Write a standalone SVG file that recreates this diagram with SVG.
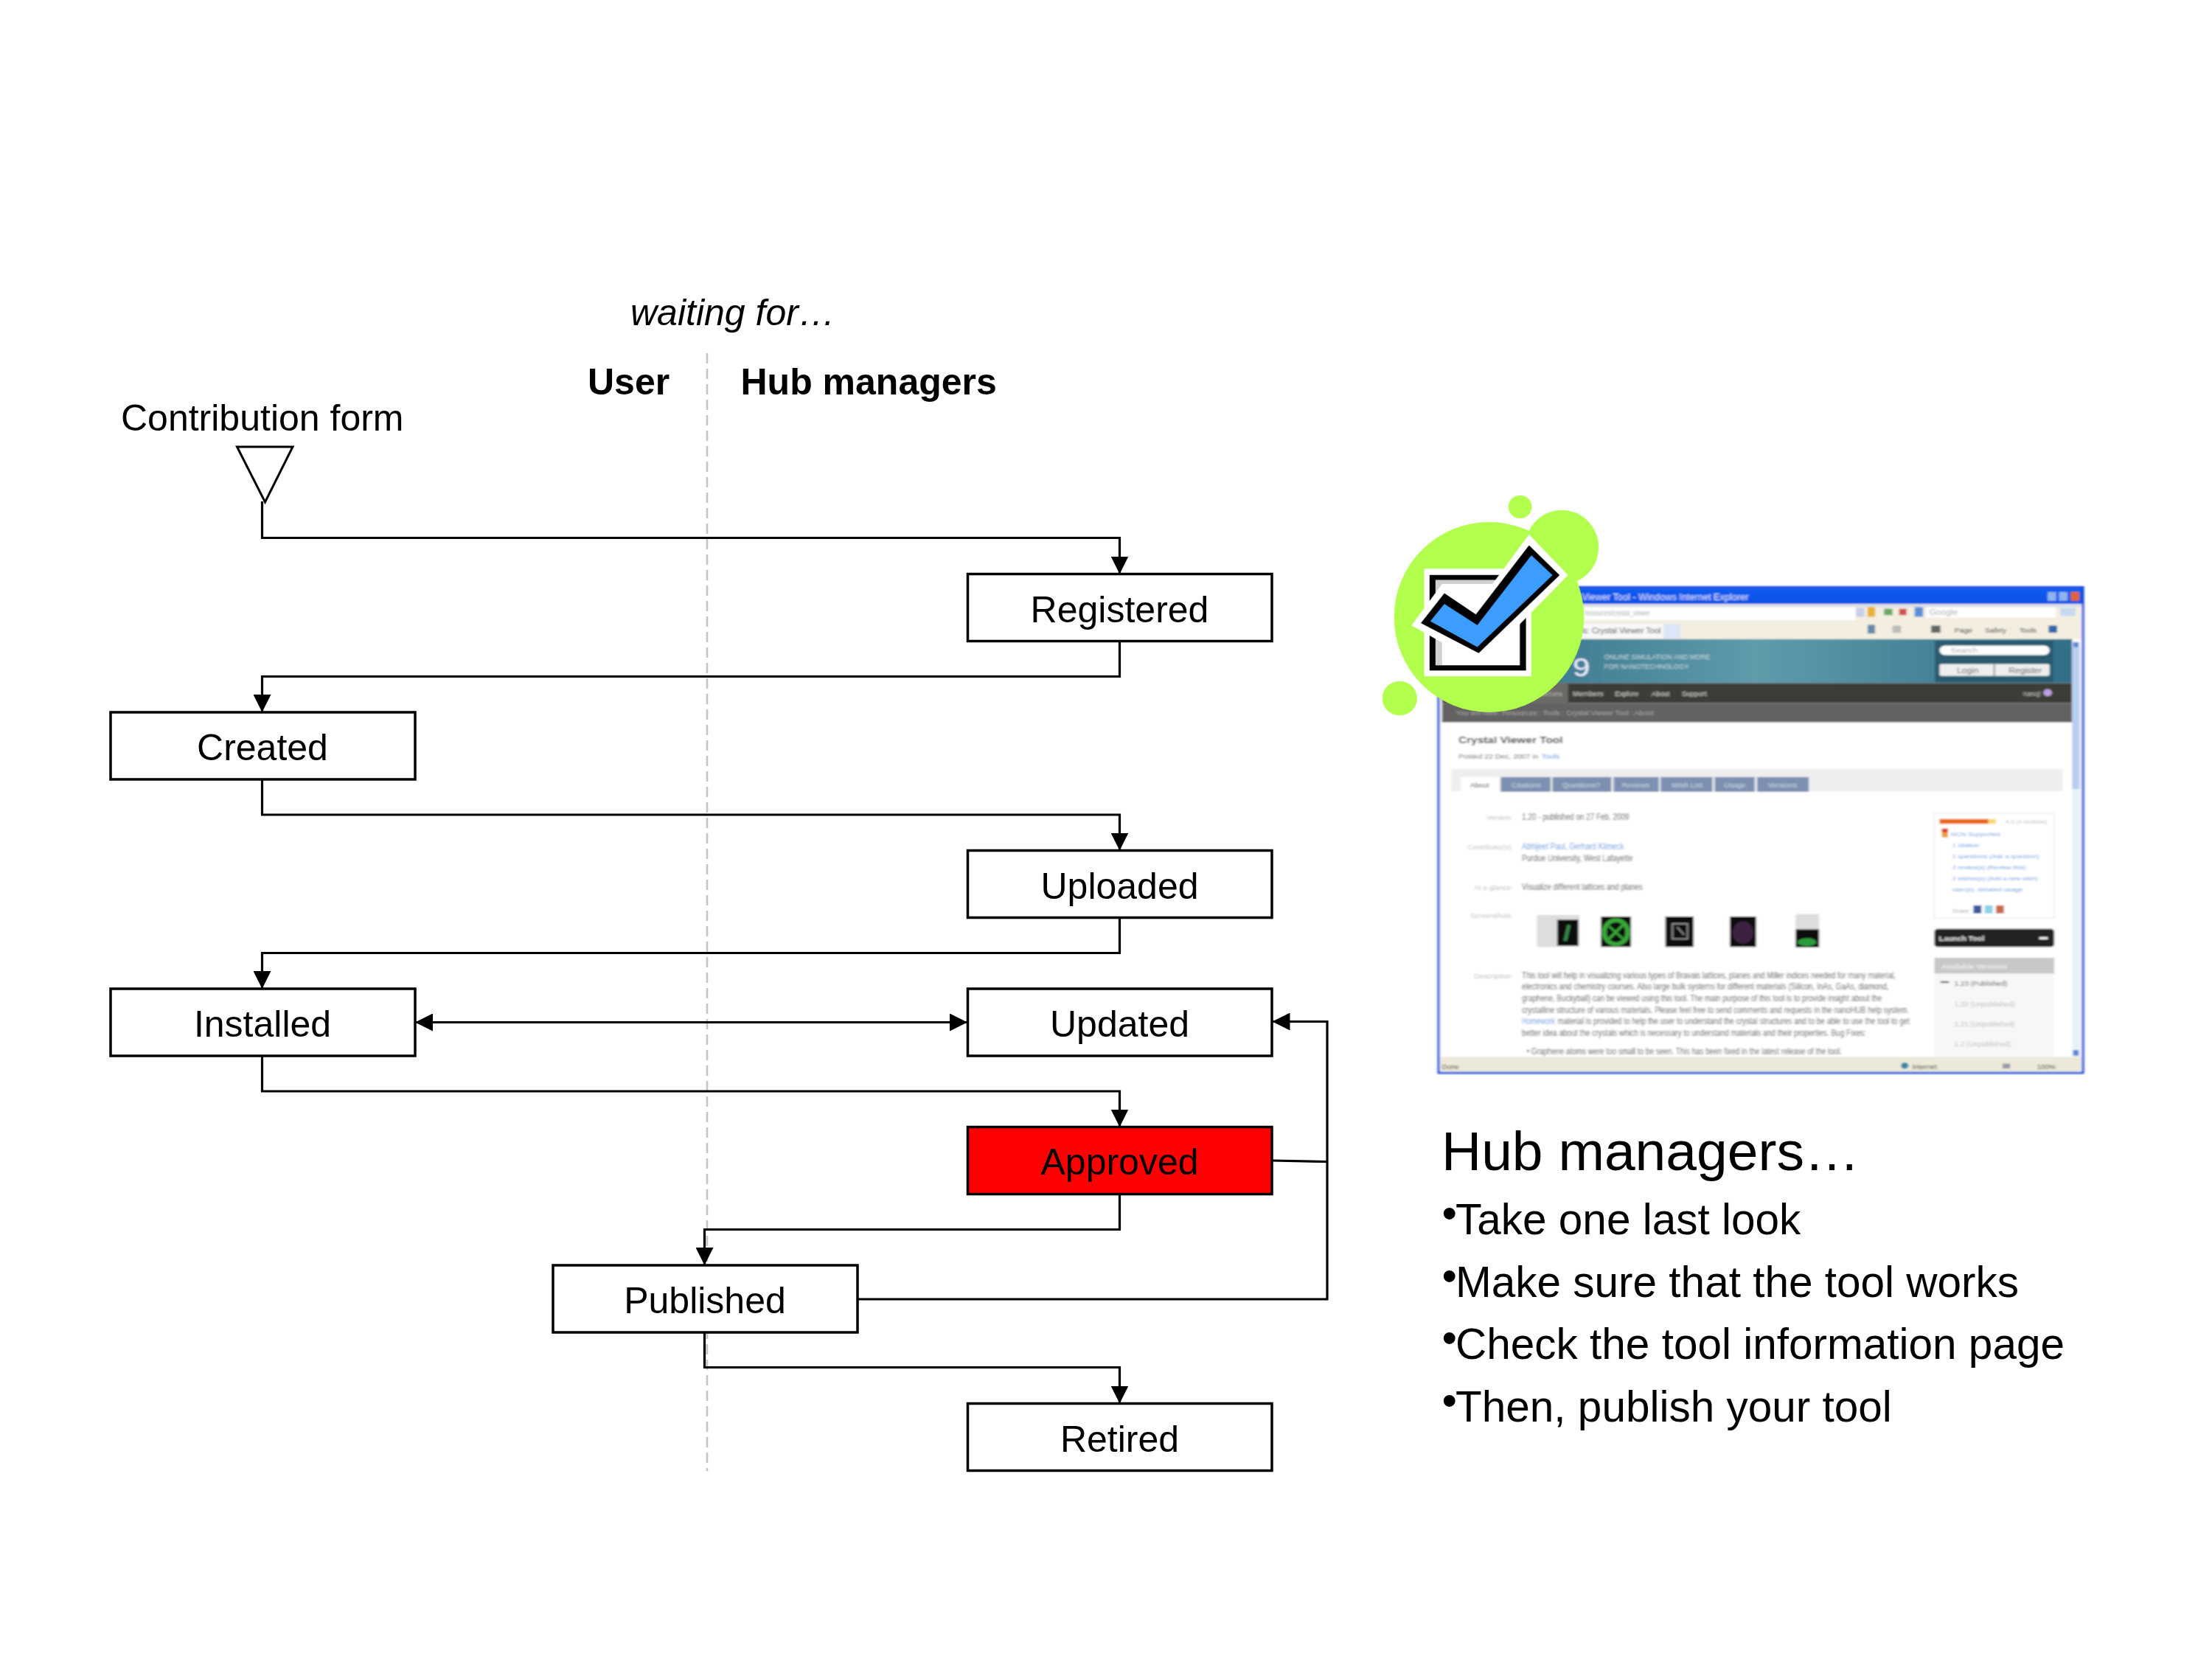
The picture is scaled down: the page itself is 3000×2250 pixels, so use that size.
<svg xmlns="http://www.w3.org/2000/svg" width="3000" height="2250" viewBox="0 0 3000 2250">
<style>
text{font-family:"Liberation Sans",Arial,sans-serif;fill:#000}
.box{fill:#fff;stroke:#000;stroke-width:3.5}
.lab{font-size:50px;text-anchor:middle}
.head{font-size:50px;font-weight:bold}
.conn{fill:none;stroke:#000;stroke-width:3.2}
.bul{font-size:58.500px}
.p{font-size:22px;fill:#555}
</style>
<defs>
<marker id="arr" markerUnits="userSpaceOnUse" markerWidth="24" markerHeight="24" refX="24" refY="12" orient="auto-start-reverse"><path d="M0,0L24,12L0,24z" fill="#000"/></marker>
<filter id="blur" x="-5%" y="-5%" width="110%" height="110%"><feGaussianBlur stdDeviation="2.2"/></filter>
<filter id="soft" x="-5%" y="-5%" width="110%" height="110%"><feGaussianBlur stdDeviation="0.9"/></filter>
<linearGradient id="title" x1="0" x2="0" y1="0" y2="1"><stop offset="0" stop-color="#0f5cf0"/><stop offset="1" stop-color="#0a50e6"/></linearGradient>
<linearGradient id="teal" x1="0" x2="1" y1="0" y2="0"><stop offset="0" stop-color="#2f6b84"/><stop offset=".5" stop-color="#5f9bab"/><stop offset="1" stop-color="#2f6f88"/></linearGradient>
</defs>

<line id="divider" x1="959" y1="479" x2="959" y2="1995" stroke="#c4c4c4" stroke-width="2.600" stroke-dasharray="14 7"/>

<g id="connectors" class="conn">
<path marker-end="url(#arr)" d="M355.500 680V729.500H1518.500V778.500"/>
<path marker-end="url(#arr)" d="M1518.500 869.500V917.500H355.500V966"/>
<path marker-end="url(#arr)" d="M355.500 1057V1105H1518.500V1153.500"/>
<path marker-end="url(#arr)" d="M1518.500 1244.500V1292.500H355.500V1341"/>
<path marker-start="url(#arr)" marker-end="url(#arr)" d="M563 1386.500H1312"/>
<path marker-end="url(#arr)" d="M355.500 1432V1480H1518.500V1528.500"/>
<path marker-end="url(#arr)" d="M1518.500 1619.500V1667.500H955.500V1716"/>
<path marker-end="url(#arr)" d="M955.500 1807V1854.500H1518.500V1903.500"/>
<path marker-end="url(#arr)" d="M1163 1762H1800V1385.500H1725.500"/>
<path d="M1725.500 1574L1800 1575.500"/>
</g>

<g id="waiting"><text x="855" y="441" font-size="50" font-style="italic">waiting for…</text></g>
<g id="user"><text class="head" x="797" y="535">User</text></g>
<g id="hub"><text class="head" x="1004.500" y="535">Hub managers</text></g>
<g id="contribution"><text x="164" y="583.500" font-size="50">Contribution form</text>
<path d="M321.500 606H397L359.500 681z" fill="#fff" stroke="#000" stroke-width="3"/></g>

<g id="registered"><rect class="box" x="1312.500" y="778.500" width="412.500" height="91"/><text class="lab" x="1518.500" y="843.500">Registered</text></g>
<g id="created"><rect class="box" x="150" y="966" width="413" height="91"/><text class="lab" x="356" y="1031">Created</text></g>
<g id="uploaded"><rect class="box" x="1312.500" y="1153.500" width="412.500" height="91"/><text class="lab" x="1518.500" y="1218.500">Uploaded</text></g>
<g id="installed"><rect class="box" x="150" y="1341" width="413" height="91"/><text class="lab" x="356" y="1406">Installed</text></g>
<g id="updated"><rect class="box" x="1312.500" y="1341" width="412.500" height="91"/><text class="lab" x="1518.500" y="1406">Updated</text></g>
<g id="approved"><rect class="box" style="fill:#f00" x="1312.500" y="1528.500" width="412.500" height="91"/><text class="lab" x="1518.500" y="1593">Approved</text></g>
<g id="published"><rect class="box" x="750" y="1716" width="413" height="91"/><text class="lab" x="956" y="1781">Published</text></g>
<g id="retired"><rect class="box" x="1312.500" y="1903.500" width="412.500" height="91"/><text class="lab" x="1518.500" y="1968.500">Retired</text></g>

<g id="screenshot" transform="translate(1860,650) scale(.6378,.5421)">
<g filter="url(#blur)">
<rect x="143" y="270" width="1370" height="1215" fill="#fff"/>
<rect x="143" y="272" width="1370" height="40" fill="url(#title)"/>
<text x="380" y="302" font-size="24" lengthAdjust="spacingAndGlyphs" textLength="422" style="fill:#dfe8ff">Crystal Viewer Tool - Windows Internet Explorer</text>
<rect x="1438" y="282" width="18" height="22" fill="#8fb4f0"/><rect x="1462" y="282" width="18" height="22" fill="#8fb4f0"/><rect x="1487" y="282" width="18" height="22" fill="#e0653a"/>
<rect x="147" y="312" width="1362" height="88" fill="#f3eee0"/>
<rect x="147" y="312" width="1362" height="8" fill="#d8dfe6"/>
<rect x="300" y="320" width="730" height="32" fill="#fff"/>
<text x="452" y="342" font-size="19" lengthAdjust="spacingAndGlyphs" textLength="140" style="fill:#aaa">/resources/crystal_viewer</text>
<rect x="1030" y="322" width="18" height="22" fill="#c8d0e8"/><rect x="1055" y="320" width="16" height="24" fill="#e8b030"/><rect x="1090" y="324" width="18" height="16" fill="#6aa860"/><rect x="1122" y="324" width="16" height="16" fill="#d05050"/><rect x="1155" y="320" width="18" height="24" fill="#5a8fd8"/>
<rect x="1180" y="320" width="275" height="26" fill="#fff"/><text x="1186" y="340" font-size="19" style="fill:#aaa">Google</text>
<rect x="1465" y="322" width="32" height="20" fill="#c8d8f0"/>
<rect x="300" y="362" width="320" height="36" fill="#f8f8fa"/><rect x="622" y="362" width="35" height="36" fill="#dce6f8"/>
<text x="300" y="386" font-size="21" lengthAdjust="spacingAndGlyphs" textLength="315" style="fill:#444">nanoHUB.org - Tools: Crystal Viewer Tool</text>
<text x="1240" y="384" font-size="18" lengthAdjust="spacingAndGlyphs" textLength="38" style="fill:#333">Page</text><text x="1305" y="384" font-size="18" lengthAdjust="spacingAndGlyphs" textLength="45" style="fill:#333">Safety</text><text x="1378" y="384" font-size="18" lengthAdjust="spacingAndGlyphs" textLength="36" style="fill:#333">Tools</text>
<rect x="1055" y="364" width="16" height="22" fill="#6688aa"/><rect x="1108" y="366" width="18" height="18" fill="#bbb"/><rect x="1190" y="366" width="20" height="18" fill="#666"/><rect x="1440" y="366" width="18" height="18" fill="#3366aa"/>
<rect x="150" y="400" width="1340" height="110" fill="url(#teal)"/>
<rect x="1198" y="404" width="252" height="104" fill="#2c5a70"/>
<text x="428" y="492" font-size="66" style="fill:#eef">9</text>
<text x="495" y="450" font-size="17" lengthAdjust="spacingAndGlyphs" textLength="225" style="fill:#cdd">ONLINE SIMULATION AND MORE</text>
<text x="495" y="474" font-size="17" lengthAdjust="spacingAndGlyphs" textLength="180" style="fill:#cdd">FOR NANOTECHNOLOGY</text>
<rect x="1208" y="416" width="234" height="24" rx="12" fill="#fff"/><text x="1232" y="434" font-size="18" style="fill:#aaa">Search</text>
<rect x="1208" y="462" width="234" height="30" rx="4" fill="#eee"/><rect x="1323" y="462" width="3" height="30" fill="#888"/>
<text x="1245" y="486" font-size="19" style="fill:#555">Login</text><text x="1355" y="486" font-size="19" style="fill:#555">Register</text>
<rect x="150" y="510" width="1340" height="50" fill="#3d3d39"/><rect x="300" y="510" width="118" height="50" fill="#6a6a66"/>
<text x="318" y="542" font-size="17" lengthAdjust="spacingAndGlyphs" textLength="88" style="fill:#bbb">Resources</text>
<text x="428" y="542" font-size="17" lengthAdjust="spacingAndGlyphs" textLength="65" style="fill:#ddd">Members</text><text x="518" y="542" font-size="17" lengthAdjust="spacingAndGlyphs" textLength="50" style="fill:#ddd">Explore</text><text x="596" y="542" font-size="17" lengthAdjust="spacingAndGlyphs" textLength="38" style="fill:#ddd">About</text><text x="660" y="542" font-size="17" lengthAdjust="spacingAndGlyphs" textLength="53" style="fill:#ddd">Support</text>
<text x="1386" y="542" font-size="18" lengthAdjust="spacingAndGlyphs" textLength="38" style="fill:#ccc">nanoj!</text><circle cx="1438" cy="534" r="9" fill="#c0a0e0"/>
<rect x="150" y="560" width="1340" height="48" fill="#626262"/>
<text x="180" y="590" font-size="15" lengthAdjust="spacingAndGlyphs" textLength="420" style="fill:#aaa">You are here: Resources : Tools : Crystal Viewer Tool : About</text>
<text x="185" y="660" font-size="24" font-weight="bold" lengthAdjust="spacingAndGlyphs" textLength="222" style="fill:#333">Crystal Viewer Tool</text>
<text x="185" y="700" font-size="15" lengthAdjust="spacingAndGlyphs" textLength="170" style="fill:#666">Posted 22 Dec, 2007 in</text><text x="362" y="700" font-size="15" lengthAdjust="spacingAndGlyphs" textLength="38" style="fill:#4a8fe0">Tools</text>
<rect x="170" y="725" width="1300" height="55" fill="#eee"/>
<rect x="190" y="745" width="82" height="35" fill="#fff"/><text x="210" y="771" font-size="16" lengthAdjust="spacingAndGlyphs" textLength="40" style="fill:#444">About</text>
<g fill="#7e90b2"><rect x="275" y="745" width="106" height="37"/><rect x="385" y="745" width="125" height="37"/><rect x="515" y="745" width="96" height="37"/><rect x="615" y="745" width="110" height="37"/><rect x="730" y="745" width="85" height="37"/><rect x="820" y="745" width="110" height="37"/></g>
<g font-size="15"><text x="298" y="771" lengthAdjust="spacingAndGlyphs" textLength="62" style="fill:#cdd">Citations</text><text x="406" y="771" lengthAdjust="spacingAndGlyphs" textLength="80" style="fill:#cdd">Questions?</text><text x="533" y="771" lengthAdjust="spacingAndGlyphs" textLength="58" style="fill:#cdd">Reviews</text><text x="638" y="771" lengthAdjust="spacingAndGlyphs" textLength="66" style="fill:#cdd">Wish List</text><text x="750" y="771" lengthAdjust="spacingAndGlyphs" textLength="46" style="fill:#cdd">Usage</text><text x="843" y="771" lengthAdjust="spacingAndGlyphs" textLength="62" style="fill:#cdd">Versions</text></g>
<g font-size="16"><text x="245" y="853" lengthAdjust="spacingAndGlyphs" textLength="52" style="fill:#bbb">Version</text><text x="205" y="926" lengthAdjust="spacingAndGlyphs" textLength="92" style="fill:#bbb">Contributor(s)</text><text x="218" y="1028" lengthAdjust="spacingAndGlyphs" textLength="79" style="fill:#bbb">At a glance</text><text x="210" y="1098" lengthAdjust="spacingAndGlyphs" textLength="87" style="fill:#bbb">Screenshots</text><text x="218" y="1248" lengthAdjust="spacingAndGlyphs" textLength="79" style="fill:#bbb">Description</text></g>
<g transform="scale(.65,1)">
<text class="p" x="492.300" y="853" lengthAdjust="spacingAndGlyphs" textLength="351">1.20 - published on 27 Feb. 2009</text>
<text class="p" x="492.300" y="926" lengthAdjust="spacingAndGlyphs" textLength="334" style="fill:#6a9ee0">Abhijeet Paul, Gerhard Klimeck</text>
<text class="p" x="492.300" y="955" lengthAdjust="spacingAndGlyphs" textLength="363">Purdue University, West Lafayette</text>
<text class="p" x="492.300" y="1028" lengthAdjust="spacingAndGlyphs" textLength="395">Visualize different lattices and planes</text>
<text class="p" x="492.300" y="1248" lengthAdjust="spacingAndGlyphs" textLength="1223">This tool will help in visualizing various types of Bravais lattices, planes and Miller indices needed for many material,</text>
<text class="p" x="492.300" y="1277" lengthAdjust="spacingAndGlyphs" textLength="1200">electronics and chemistry courses. Also large bulk systems for different materials (Silicon, InAs, GaAs, diamond,</text>
<text class="p" x="492.300" y="1306" lengthAdjust="spacingAndGlyphs" textLength="1177">graphene, Buckyball) can be viewed using this tool. The main purpose of this tool is to provide insight about the</text>
<text class="p" x="492.300" y="1335" lengthAdjust="spacingAndGlyphs" textLength="1266">crystalline structure of various materials. Please feel free to send comments and requests in the nanoHUB help system.</text>
<text class="p" x="492.300" y="1364" lengthAdjust="spacingAndGlyphs" textLength="108" style="fill:#6a9ee0">Homework</text>
<text class="p" x="609.200" y="1364" lengthAdjust="spacingAndGlyphs" textLength="1152">material is provided to help the user to understand the crystal structures and to be able to use the tool to get</text>
<text class="p" x="492.300" y="1393" lengthAdjust="spacingAndGlyphs" textLength="1126">better idea about the crystals which is necessary to understand materials and their properties. Bug Fixes:</text>
<text class="p" x="507.700" y="1438" lengthAdjust="spacingAndGlyphs" textLength="1031">•  Graphene atoms were too small to be seen. This has been fixed in the latest release of the tool.</text>
</g>
<rect x="352" y="1090" width="90" height="80" fill="#ddd"/><rect x="395" y="1102" width="45" height="65" fill="#0a0a0a"/><path d="M420 1115L412 1155" stroke="#3a8a4a" stroke-width="7"/>
<rect x="488" y="1094" width="64" height="76" fill="#111"/><ellipse cx="520" cy="1133" rx="25" ry="30" fill="none" stroke="#38a838" stroke-width="10"/><path d="M505 1150L535 1115" stroke="#38a838" stroke-width="6"/><path d="M505 1118L535 1150" stroke="#38a838" stroke-width="5"/>
<rect x="625" y="1094" width="60" height="76" fill="#111"/><path d="M640 1112H672V1150H640zM650 1120L665 1140" fill="none" stroke="#999" stroke-width="3"/>
<rect x="762" y="1094" width="56" height="76" fill="#111"/><ellipse cx="790" cy="1134" rx="22" ry="28" fill="#3a2040"/>
<rect x="902" y="1088" width="50" height="38" fill="#ddd"/><rect x="902" y="1126" width="50" height="45" fill="#080808"/><ellipse cx="926" cy="1158" rx="20" ry="10" fill="#2c9c3c"/>
<rect x="1197" y="835" width="255" height="263" fill="#fff" stroke="#eee" stroke-width="3"/>
<rect x="1208" y="850" width="104" height="12" fill="#e8650f"/><rect x="1312" y="850" width="16" height="12" fill="#f8d870"/>
<text x="1348" y="862" font-size="13" lengthAdjust="spacingAndGlyphs" textLength="89" style="fill:#bbb">4.3 (4 reviews)</text>
<rect x="1213" y="874" width="13" height="22" fill="#e8a030"/><rect x="1213" y="874" width="13" height="9" fill="#e03030"/>
<g font-size="14"><text x="1232" y="893" style="fill:#6a9ee0" lengthAdjust="spacingAndGlyphs" textLength="105">NCN Supported</text><text x="1235" y="920" style="fill:#6a9ee0" lengthAdjust="spacingAndGlyphs" textLength="57">1 citation</text><text x="1235" y="948" style="fill:#6a9ee0" lengthAdjust="spacingAndGlyphs" textLength="185">1 questions (Ask a question)</text><text x="1235" y="976" style="fill:#6a9ee0" lengthAdjust="spacingAndGlyphs" textLength="157">2 review(s) (Review this)</text><text x="1235" y="1003" style="fill:#6a9ee0" lengthAdjust="spacingAndGlyphs" textLength="182">2 wishes(s) (Add a new wish)</text><text x="1235" y="1031" style="fill:#6a9ee0" lengthAdjust="spacingAndGlyphs" textLength="150">user(s), detailed usage</text><text x="1235" y="1084" style="fill:#aaa" lengthAdjust="spacingAndGlyphs" textLength="36">Share</text></g>
<rect x="1280" y="1066" width="17" height="20" fill="#3b5998"/><rect x="1304" y="1066" width="17" height="20" fill="#8cd0e8"/><rect x="1328" y="1066" width="17" height="20" fill="#c86a50"/>
<rect x="1197" y="1125" width="255" height="45" rx="7" fill="#202020"/><text x="1207" y="1155" font-size="17" font-weight="bold" lengthAdjust="spacingAndGlyphs" textLength="96" style="fill:#eee">Launch Tool</text><path d="M1420 1148H1438" stroke="#eee" stroke-width="6"/>
<rect x="1197" y="1197" width="255" height="40" fill="#c8c8c8"/><text x="1212" y="1224" font-size="15" font-weight="bold" lengthAdjust="spacingAndGlyphs" textLength="140" style="fill:#eee">Available Versions</text>
<rect x="1197" y="1237" width="255" height="208" fill="#f7f7f7"/>
<path d="M1210 1258H1228" stroke="#444" stroke-width="4"/>
<text x="1240" y="1268" font-size="15" lengthAdjust="spacingAndGlyphs" textLength="112" style="fill:#555">1.23 (Published)</text>
<text x="1240" y="1319" font-size="15" lengthAdjust="spacingAndGlyphs" textLength="128" style="fill:#bbb">1.22 (Unpublished)</text>
<text x="1240" y="1368" font-size="15" lengthAdjust="spacingAndGlyphs" textLength="128" style="fill:#bbb">1.21 (Unpublished)</text>
<text x="1240" y="1418" font-size="15" lengthAdjust="spacingAndGlyphs" textLength="120" style="fill:#bbb">1.2 (Unpublished)</text>
<rect x="1490" y="405" width="16" height="1040" fill="#e8eff8"/><rect x="1490" y="420" width="16" height="355" fill="#b8cef0"/><rect x="1492" y="408" width="12" height="12" fill="#5a86d8"/><rect x="1492" y="1428" width="12" height="14" fill="#5a86d8"/>
<rect x="147" y="1445" width="1362" height="36" fill="#ece9d8"/>
<text x="150" y="1475" font-size="18" lengthAdjust="spacingAndGlyphs" textLength="36" style="fill:#444">Done</text><circle cx="1134" cy="1467" r="8" fill="#3a86a8"/>
<text x="1150" y="1475" font-size="18" lengthAdjust="spacingAndGlyphs" textLength="53" style="fill:#444">Internet</text><text x="1415" y="1475" font-size="17" lengthAdjust="spacingAndGlyphs" textLength="40" style="fill:#444">100%</text><rect x="1342" y="1462" width="16" height="12" fill="#99a"/>
<rect x="143" y="270" width="1370" height="1215" fill="none" stroke="#1446d8" stroke-width="5"/>
</g>
</g>

<g id="badge" transform="translate(1860,650) scale(.6378,.5421)" filter="url(#soft)">
<g fill="#b2ff4d"><ellipse cx="250" cy="345" rx="202" ry="238"/><ellipse cx="405" cy="170" rx="78" ry="93"/><ellipse cx="316" cy="69" rx="25" ry="29"/><ellipse cx="60" cy="548" rx="37" ry="43"/></g>
<rect x="112" y="224" width="228" height="269" fill="#fff"/>
<rect x="130" y="246" width="192" height="226" fill="#fff" stroke="#000" stroke-width="13"/>
<path d="M136 252H270V262H150V465H136z" fill="#d0d0d0"/>
<path d="M335 138L418 240L232 462L85 366L150 262L222 318z" fill="#fff"/>
<path d="M335 165L400 240L228 435L105 360L155 285L222 338z" fill="#000"/>
<path d="M340 190L385 240L225 420L125 355L155 312L225 365z" fill="#3d9dff"/>
</g>

<g id="notes">
<text x="1955" y="1586.500" font-size="75">Hub managers…</text>
<text class="bul" y="1674"><tspan x="1955.500" dy="-8">•</tspan><tspan x="1974" dy="8">Take one last look</tspan></text>
<text class="bul" y="1758.500"><tspan x="1955.500" dy="-8">•</tspan><tspan x="1974" dy="8">Make sure that the tool works</tspan></text>
<text class="bul" y="1843"><tspan x="1955.500" dy="-8">•</tspan><tspan x="1974" dy="8">Check the tool information page</tspan></text>
<text class="bul" y="1927.500"><tspan x="1955.500" dy="-8">•</tspan><tspan x="1974" dy="8">Then, publish your tool</tspan></text>
</g>
</svg>
